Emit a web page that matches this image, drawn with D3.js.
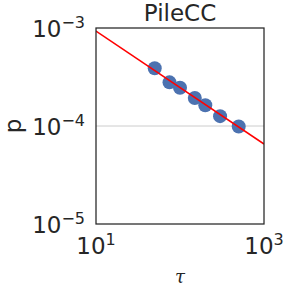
<!DOCTYPE html>
<html>
<head>
<meta charset="utf-8">
<script src="https://cdn.jsdelivr.net/npm/d3@7"></script>
<style>
  body { margin: 0; background: #fff; }
  text { font-family: "DejaVu Sans", sans-serif; fill: #262626; }
</style>
</head>
<body>
<svg width="288" height="288"></svg>
<script>
// measured points (tau, p)
const tau = [50, 75, 100, 150, 200, 300, 500]
const pValues = [3.88e-4, 2.79e-4, 2.46e-4, 1.93e-4, 1.63e-4, 1.26e-4, 9.9e-5]

// fitted power-law line, endpoints
const fitTau = [10, 1000]
const fitP = [9.3e-4, 6.55e-5]

const xTicks = [10, 1000]
const xTickExp = ['1', '3']
const yTicks = [1e-5, 1e-4, 1e-3]
const yTickExp = ['\u22125', '\u22124', '\u22123']

const svg = d3.select('svg')
const plot = {left: 96, right: 264, top: 28, bottom: 224}

const x = d3.scaleLog().domain([10, 1000]).range([plot.left, plot.right])
const y = d3.scaleLog().domain([1e-5, 1e-3]).range([plot.bottom, plot.top])

// grid line at 10^-4
svg.append('g')
    .selectAll('line')
    .data([1e-4])
    .enter().append('line')
    .attr('x1', plot.left).attr('x2', plot.right)
    .attr('y1', d => y(d)).attr('y2', d => y(d))
    .attr('stroke', '#cccccc')
    .attr('stroke-width', 1)

svg.append('defs').append('clipPath').attr('id', 'clip')
    .append('rect')
    .attr('x', plot.left).attr('y', plot.top)
    .attr('width', plot.right - plot.left).attr('height', plot.bottom - plot.top)

const line = d3.line()
    .x((d, i) => x(fitTau[i]))
    .y(d => y(d))

svg.append('g')
    .selectAll('circle')
    .data(tau)
    .enter().append('circle')
    .attr('cx', d => x(d))
    .attr('cy', (d, i) => y(pValues[i]))
    .attr('r', 7)
    .attr('fill', '#4c72b0')

svg.append('path')
    .datum(fitP)
    .attr('d', line)
    .attr('clip-path', 'url(#clip)')
    .attr('fill', 'none')
    .attr('stroke', '#ff0000')
    .attr('stroke-width', 1.5)

// frame
svg.append('rect')
    .attr('x', plot.left).attr('y', plot.top)
    .attr('width', plot.right - plot.left).attr('height', plot.bottom - plot.top)
    .attr('fill', 'none')
    .attr('stroke', '#262626')
    .attr('stroke-width', 1.25)

// x tick labels
const xl = svg.append('g')
    .selectAll('text')
    .data(xTicks)
    .enter().append('text')
    .attr('x', d => x(d))
    .attr('y', 254)
    .attr('text-anchor', 'middle')
    .style('font-size', '23px')
xl.append('tspan').text('10')
xl.append('tspan').attr('dy', -9).style('font-size', '16px').text((d, i) => xTickExp[i])

// y tick labels
const yl = svg.append('g')
    .selectAll('text')
    .data(yTicks)
    .enter().append('text')
    .attr('x', 85)
    .attr('y', d => y(d) + 9)
    .attr('text-anchor', 'end')
    .style('font-size', '23px')
yl.append('tspan').text('10')
yl.append('tspan').attr('dy', -9).style('font-size', '16px').text((d, i) => yTickExp[i])

svg.append('text')
    .attr('x', 180).attr('y', 21)
    .attr('text-anchor', 'middle')
    .style('font-size', '23px')
    .text('PileCC')

svg.append('text')
    .attr('x', 180).attr('y', 283)
    .attr('text-anchor', 'middle')
    .style('font-family', '"DejaVu Serif", serif')
    .style('font-style', 'italic')
    .style('font-size', '18px')
    .text('\u03c4')

svg.append('text')
    .attr('transform', 'translate(21,126) rotate(-90)')
    .attr('text-anchor', 'middle')
    .style('font-size', '23px')
    .text('p')
</script>
</body>
</html>
